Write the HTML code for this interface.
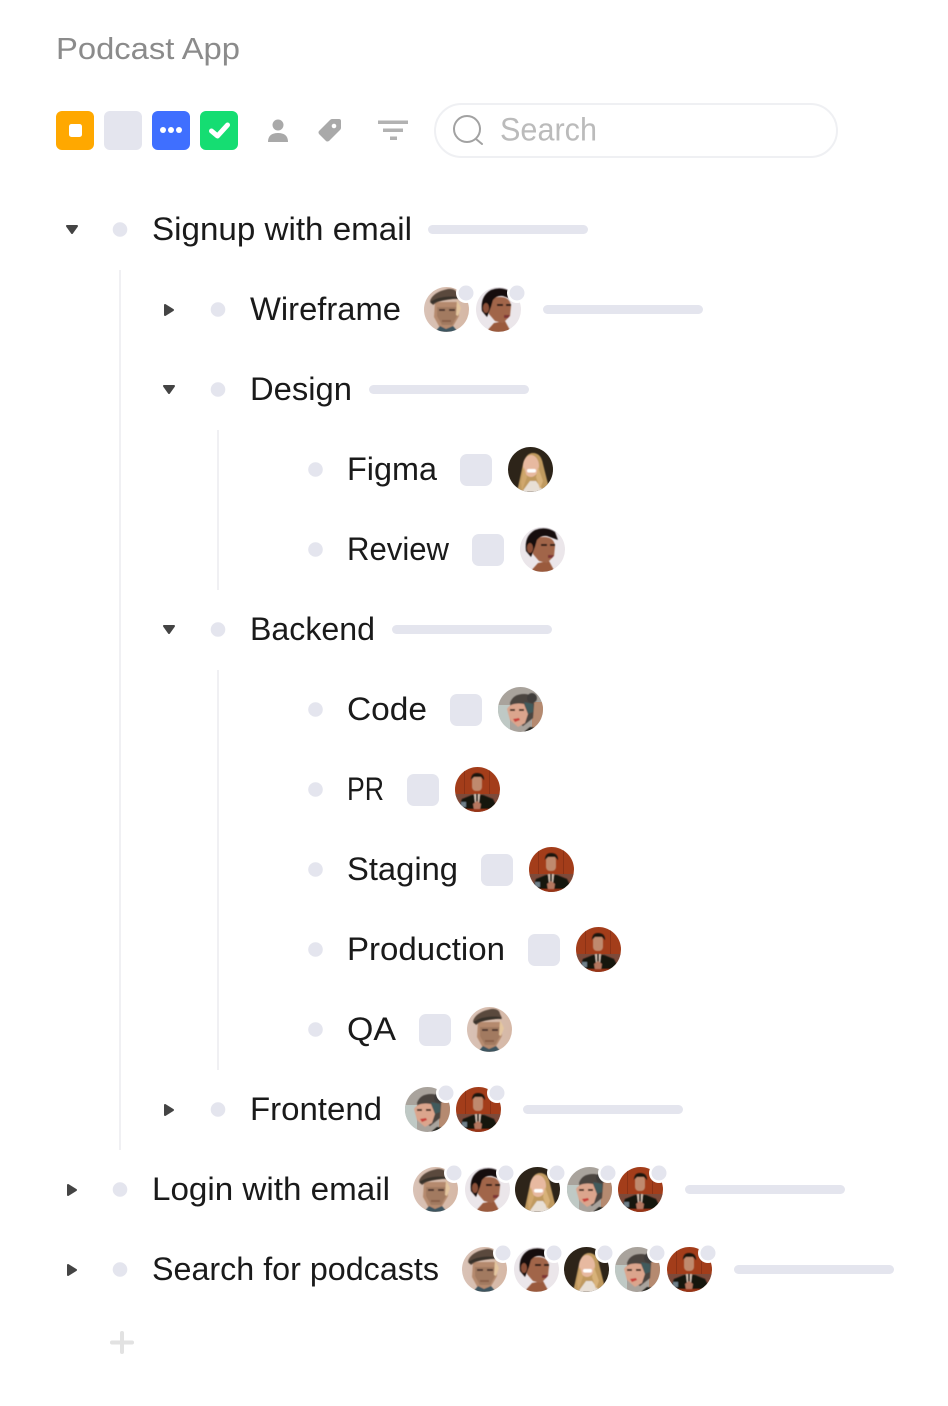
<!DOCTYPE html>
<html><head><meta charset="utf-8"><style>html,body{margin:0;padding:0;background:#fff}svg{display:block}text{font-family:"Liberation Sans",sans-serif}</style></head><body>
<svg width="948" height="1406" viewBox="0 0 948 1406" xmlns="http://www.w3.org/2000/svg">
<defs>
<clipPath id="c"><circle cx="22.5" cy="22.5" r="22.5"/></clipPath>
<linearGradient id="ga" x1="0" x2="1"><stop offset="0" stop-color="#d9c2b6"/><stop offset="1" stop-color="#d6b8a6"/></linearGradient>
<filter id="b"><feGaussianBlur stdDeviation=".5"/></filter>
<symbol id="A" width="45" height="45" viewBox="0 0 45 45"><g clip-path="url(#c)"><rect width="45" height="45" fill="url(#ga)"/><g filter="url(#b)"><path d="M11 15h23l1 14-7 12-6 2-6-2-6-11z" fill="#b58a6e"/><path d="M13 20h20v9l-5 9h-10l-5-9z" fill="#a27a60"/><path d="M6 14q3-9 18-12 8-1 9 5l2 4-13 2q-8 1-13 5z" fill="#5a4a3e"/><path d="M6 15q11-7 27-5l2 2q-15-1-27 5z" fill="#38302a"/><path d="M11 45l5-6 6 3 7-3 5 6z" fill="#3e5560"/><path d="M33 13l4 8-3 8-2-1z" fill="#e4c69f"/><rect x="15" y="22" width="6" height="2" fill="#4f392e"/><rect x="25" y="22" width="6" height="2" fill="#4f392e"/><rect x="18" y="33" width="9" height="2" fill="#8a5e4a"/></g></g></symbol>
<symbol id="B" width="45" height="45" viewBox="0 0 45 45"><g clip-path="url(#c)"><rect width="45" height="45" fill="#ebe6ea"/><g filter="url(#b)"><path d="M10 45l8-9 11-2 6 11z" fill="#9a5a3c"/><path d="M11 18q2-8 13-8 10 0 11 9l-1 10-7 7-8-2-6-7z" fill="#a1654a"/><path d="M6 24Q4 9 15 3q11-4 20 2l3 8-11-4q-6-1-10 4l-2 7-4 10z" fill="#141010"/><ellipse cx="10" cy="21" rx="3" ry="5" fill="#8b5039"/><rect x="21" y="17" width="6" height="2" fill="#2a1a18"/><rect x="30" y="17" width="5" height="2" fill="#2a1a18"/><path d="M28 28l6 0-2 3h-4z" fill="#7e3436"/></g></g></symbol>
<symbol id="C" width="45" height="45" viewBox="0 0 45 45"><g clip-path="url(#c)"><rect width="45" height="45" fill="#2d2419"/><g filter="url(#b)"><path d="M9 45l6-28q3-11 10-11 8 0 10 11l5 20 2 8z" fill="#c09a5f"/><path d="M14 45l8-11 6 0 8 11z" fill="#e8dfd5"/><ellipse cx="23" cy="19" rx="8" ry="11" fill="#e7b9a0"/><rect x="19" y="22" width="9" height="3.5" rx="1.7" fill="#fff"/><path d="M30 20l5 14-3 8-4-12z" fill="#d8b27a"/><path d="M16 20l-3 15 1 9 5-14z" fill="#d0a76d"/></g></g></symbol>
<symbol id="D" width="45" height="45" viewBox="0 0 45 45"><g clip-path="url(#c)"><rect width="45" height="45" fill="#a9a39c"/><rect x="0" y="18" width="12" height="27" fill="#bfc9c5"/><rect x="34" y="15" width="12" height="30" fill="#b58a70"/><g filter="url(#b)"><path d="M12 16q3-9 14-9 10 0 10 10l-1 14-10 8-10-6z" fill="#4c4440"/><circle cx="34" cy="11" r="5" fill="#3f3d3b"/><path d="M9 22q4-7 17-5l4 10-3 9-7 4-8-7z" fill="#dba58d"/><path d="M26 15l9 2v8l-5 2z" fill="#3f5a5c"/><path d="M15 32l6-1 1 2-5 2z" fill="#c9403a"/><rect x="12" y="22" width="5" height="2" fill="#4a3026"/><rect x="21" y="22" width="5" height="2" fill="#4a3026"/><path d="M26 45l6-5 8 1 2 4z" fill="#22201f"/></g></g></symbol>
<symbol id="E" width="45" height="45" viewBox="0 0 45 45"><g clip-path="url(#c)"><rect width="45" height="45" fill="#a33d1a"/><rect x="0" y="27" width="45" height="18" fill="#7d4a3a"/><rect x="9" y="0" width="1" height="27" fill="#8c3215"/><rect x="34" y="0" width="1" height="27" fill="#8c3215"/><g filter="url(#b)"><path d="M3 42l4-10 10-4h11l10 4 5 10z" fill="#17120f"/><rect x="17" y="9" width="10" height="15" rx="4" fill="#bf8a6e"/><path d="M16 13q0-7 6-7 7 0 7 7l-3-3h-7z" fill="#1b1310"/><path d="M19 27h6l-1 9h-4z" fill="#d8c6b8"/><rect x="21" y="27" width="2" height="9" fill="#2a1a16"/><path d="M18 37l4-3 4 3-1 6h-6z" fill="#b5775f"/><rect x="0" y="42" width="45" height="3" fill="#9a3416"/><rect x="6" y="35" width="5" height="5" fill="#6f7f88"/></g></g></symbol>
</defs>

<text x="56" y="59" font-size="31" fill="#8b8b8b" textLength="184" lengthAdjust="spacingAndGlyphs">Podcast App</text>

<!-- toolbar -->
<rect x="56" y="111" width="38" height="39" rx="6" fill="#ffa800"/>
<rect x="69" y="124" width="13" height="13" rx="2.500" fill="#fff"/>
<rect x="104" y="111" width="38" height="39" rx="6" fill="#e4e5ee"/>
<rect x="152" y="111" width="38" height="39" rx="6" fill="#3f6fff"/>
<circle cx="163" cy="130" r="3" fill="#fff"/><circle cx="171" cy="130" r="3" fill="#fff"/><circle cx="179" cy="130" r="3" fill="#fff"/>
<rect x="200" y="111" width="38" height="39" rx="6" fill="#15dd72"/>
<path d="M211.500 131l6 5 10-11" fill="none" stroke="#fff" stroke-width="5" stroke-linecap="round" stroke-linejoin="round"/>
<circle cx="278" cy="125" r="5.500" fill="#a9a9a9"/>
<path d="M268 142q0-9 10-9t10 9z" fill="#a9a9a9"/>
<path d="M319 131l11-11q1-1 2-1h7q2 0 2 2v7q0 1-1 2l-11 11q-2 1-3 0l-7-7q-1-2 0-3z" fill="#a9a9a9"/><circle cx="334" cy="126" r="2.300" fill="#fff"/>
<g fill="#b2b2b2"><rect x="378" y="120.500" width="30" height="3.500"/><rect x="383" y="128.500" width="20" height="3.500"/><rect x="390" y="136.500" width="7" height="3.500"/></g>
<rect x="435" y="104" width="402" height="53" rx="26.500" fill="#fff" stroke="#eff0f3" stroke-width="2"/>
<circle cx="467" cy="129" r="13" fill="none" stroke="#a2a2a2" stroke-width="2"/><path d="M476 139l6 5" stroke="#a2a2a2" stroke-width="2" stroke-linecap="round"/>
<text x="500" y="140.500" font-size="32" fill="#bbb" textLength="97" lengthAdjust="spacingAndGlyphs">Search</text>

<!-- guide lines -->
<g fill="#f0f0f3"><rect x="119" y="270" width="2" height="880"/><rect x="217" y="430" width="2" height="160"/><rect x="217" y="670" width="2" height="400"/></g>

<!-- triangles -->
<g fill="#444" stroke="#444" stroke-width="2" stroke-linejoin="round"><path d="M67 226h10l-5 7z"/><path d="M164 386h10l-5 7z"/><path d="M164 626h10l-5 7z"/>
<path d="M165 305l8 5-8 5z"/><path d="M165 1105l8 5-8 5z"/><path d="M68 1185l8 5-8 5z"/><path d="M68 1265l8 5-8 5z"/></g>

<!-- dots -->
<g fill="#e4e5ee">
<circle cx="120" cy="229.500" r="7.300"/><circle cx="218" cy="309.500" r="7.300"/><circle cx="218" cy="389.500" r="7.300"/><circle cx="315.500" cy="469.500" r="7.300"/><circle cx="315.500" cy="549.500" r="7.300"/><circle cx="218" cy="629.500" r="7.300"/><circle cx="315.500" cy="709.500" r="7.300"/><circle cx="315.500" cy="789.500" r="7.300"/><circle cx="315.500" cy="869.500" r="7.300"/><circle cx="315.500" cy="949.500" r="7.300"/><circle cx="315.500" cy="1029.500" r="7.300"/><circle cx="218" cy="1109.500" r="7.300"/><circle cx="120" cy="1189.500" r="7.300"/><circle cx="120" cy="1269.500" r="7.300"/>
<!-- bars -->
<rect x="428" y="225" width="160" height="9" rx="4.500"/><rect x="543" y="305" width="160" height="9" rx="4.500"/><rect x="369" y="385" width="160" height="9" rx="4.500"/><rect x="392" y="625" width="160" height="9" rx="4.500"/><rect x="523" y="1105" width="160" height="9" rx="4.500"/><rect x="685" y="1185" width="160" height="9" rx="4.500"/><rect x="734" y="1265" width="160" height="9" rx="4.500"/>
<!-- squares -->
<rect x="460" y="454" width="32" height="32" rx="7"/><rect x="472" y="534" width="32" height="32" rx="7"/><rect x="450" y="694" width="32" height="32" rx="7"/><rect x="407" y="774" width="32" height="32" rx="7"/><rect x="481" y="854" width="32" height="32" rx="7"/><rect x="528" y="934" width="32" height="32" rx="7"/><rect x="419" y="1014" width="32" height="32" rx="7"/>
</g>

<!-- labels -->
<g font-size="32" fill="#1a1a1a">
<text x="152" y="240" textLength="260" lengthAdjust="spacingAndGlyphs">Signup with email</text>
<text x="250" y="320" textLength="151" lengthAdjust="spacingAndGlyphs">Wireframe</text>
<text x="250" y="400" textLength="102" lengthAdjust="spacingAndGlyphs">Design</text>
<text x="347" y="480" textLength="90" lengthAdjust="spacingAndGlyphs">Figma</text>
<text x="347" y="560" textLength="102" lengthAdjust="spacingAndGlyphs">Review</text>
<text x="250" y="640" textLength="125" lengthAdjust="spacingAndGlyphs">Backend</text>
<text x="347" y="720" textLength="80" lengthAdjust="spacingAndGlyphs">Code</text>
<text x="347" y="800" textLength="37" lengthAdjust="spacingAndGlyphs">PR</text>
<text x="347" y="880" textLength="111" lengthAdjust="spacingAndGlyphs">Staging</text>
<text x="347" y="960" textLength="158" lengthAdjust="spacingAndGlyphs">Production</text>
<text x="347" y="1040" textLength="49" lengthAdjust="spacingAndGlyphs">QA</text>
<text x="250" y="1120" textLength="132" lengthAdjust="spacingAndGlyphs">Frontend</text>
<text x="152" y="1200" textLength="238" lengthAdjust="spacingAndGlyphs">Login with email</text>
<text x="152" y="1280" textLength="287" lengthAdjust="spacingAndGlyphs">Search for podcasts</text>
</g>

<!-- plain avatars -->
<use href="#C" x="508" y="447"/><use href="#B" x="520" y="527"/><use href="#D" x="498" y="687"/><use href="#E" x="455" y="767"/><use href="#E" x="529" y="847"/><use href="#E" x="576" y="927"/><use href="#A" x="467" y="1007"/>

<!-- badged avatars -->
<use href="#A" x="424" y="287"/><use href="#B" x="476" y="287"/>
<use href="#D" x="405" y="1087"/><use href="#E" x="456" y="1087"/>
<use href="#A" x="413" y="1167"/><use href="#B" x="465" y="1167"/><use href="#C" x="515" y="1167"/><use href="#D" x="567" y="1167"/><use href="#E" x="618" y="1167"/>
<use href="#A" x="462" y="1247"/><use href="#B" x="514" y="1247"/><use href="#C" x="564" y="1247"/><use href="#D" x="615" y="1247"/><use href="#E" x="667" y="1247"/>

<g fill="#fff">
<circle cx="466" cy="293" r="10"/><circle cx="517" cy="293" r="10"/>
<circle cx="446" cy="1093" r="10"/><circle cx="497" cy="1093" r="10"/>
<circle cx="454" cy="1173" r="10"/><circle cx="506" cy="1173" r="10"/><circle cx="557" cy="1173" r="10"/><circle cx="608" cy="1173" r="10"/><circle cx="659" cy="1173" r="10"/>
<circle cx="503" cy="1253" r="10"/><circle cx="554" cy="1253" r="10"/><circle cx="605" cy="1253" r="10"/><circle cx="657" cy="1253" r="10"/><circle cx="708" cy="1253" r="10"/>
</g>
<g fill="#e4e5ee">
<circle cx="466" cy="293" r="7.500"/><circle cx="517" cy="293" r="7.500"/>
<circle cx="446" cy="1093" r="7.500"/><circle cx="497" cy="1093" r="7.500"/>
<circle cx="454" cy="1173" r="7.500"/><circle cx="506" cy="1173" r="7.500"/><circle cx="557" cy="1173" r="7.500"/><circle cx="608" cy="1173" r="7.500"/><circle cx="659" cy="1173" r="7.500"/>
<circle cx="503" cy="1253" r="7.500"/><circle cx="554" cy="1253" r="7.500"/><circle cx="605" cy="1253" r="7.500"/><circle cx="657" cy="1253" r="7.500"/><circle cx="708" cy="1253" r="7.500"/>
</g>

<!-- plus -->
<g fill="#e2e2e2"><rect x="110" y="1340.500" width="24" height="4" rx="2"/><rect x="120" y="1331" width="4" height="23" rx="2"/></g>
</svg>
</body></html>
